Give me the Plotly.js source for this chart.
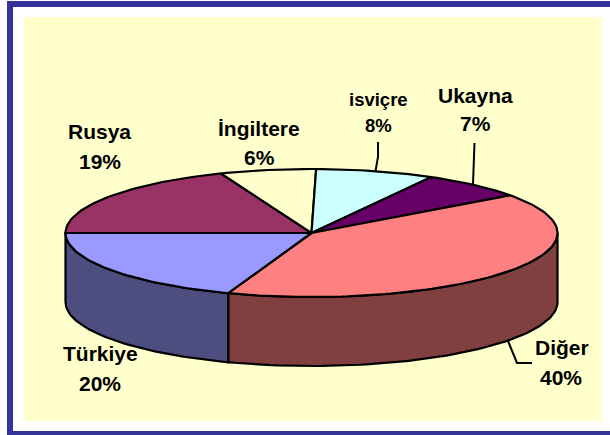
<!DOCTYPE html>
<html>
<head>
<meta charset="utf-8">
<script src="https://cdn.plot.ly/plotly-3.0.1.min.js"></script>
<style>html,body{margin:0;padding:0;background:#fff;overflow:hidden}#c{width:610px;height:435px}</style>
</head>
<body>
<div id="c"></div>
<script>
// Slices clockwise from the left edge of the pie
const categories = ["Rusya", "İngiltere", "isviçre", "Ukayna", "Diğer", "Türkiye"];
const values = [19.0, 6.3, 7.8, 6.9, 40.5, 19.5];
const percentLabels = ["19%", "6%", "8%", "7%", "40%", "20%"];
const topColors = ["#993366", "#FFFFCC", "#CCFFFF", "#660066", "#FF8080", "#9999FF"];
const sideColors = ["#4D1A33", "#808066", "#668080", "#330033", "#804040", "#4D4D80"];

// Pie projection
const cx = 311.5, cy = 233, rx = 246, ry = 64, depth = 69;
const startDeg = 180;
const total = values.reduce((a, b) => a + b, 0);

function px(t) { return cx + rx * Math.cos(t * Math.PI / 180); }
function py(t) { return cy - ry * Math.sin(t * Math.PI / 180); }
function arc(a, b) {
  const n = Math.max(2, Math.ceil(Math.abs(a - b) / 1.5));
  const out = [];
  for (let i = 0; i <= n; i++) out.push(a + (b - a) * i / n);
  return out;
}

const angles = [];
let cur = startDeg;
values.forEach(v => { const next = cur - v / total * 360; angles.push([cur, next]); cur = next; });

const traces = [];
const edge = {color: "#000", width: 2.2, shape: "linear"};

// Side wall (only the front half, angles below 0)
angles.forEach((ab, i) => {
  const a = Math.min(ab[0], 0), b = ab[1];
  if (a <= b) return;
  const ts = arc(a, b);
  const x = ts.map(px).concat(ts.slice().reverse().map(px));
  const y = ts.map(t => py(t)).concat(ts.slice().reverse().map(t => py(t) + depth));
  x.push(x[0]); y.push(y[0]);
  traces.push({type: "scatter", mode: "lines", x, y, fill: "toself", fillcolor: sideColors[i],
    line: edge, hoverinfo: "skip", showlegend: false});
});

// Top face
angles.forEach((ab, i) => {
  const ts = arc(ab[0], ab[1]);
  const x = [cx].concat(ts.map(px), [cx]);
  const y = [cy].concat(ts.map(py), [cy]);
  traces.push({type: "scatter", mode: "lines", x, y, fill: "toself", fillcolor: topColors[i],
    line: edge, name: categories[i], hoverinfo: "skip", showlegend: false});
});

// Leader lines
const leaders = [
  {x: [375.5, 378, 378], y: [171, 157, 142]},
  {x: [473, 474.5], y: [184, 143]},
  {x: [508, 517, 532], y: [341, 363, 363]}
];
leaders.forEach(l => traces.push({type: "scatter", mode: "lines", x: l.x, y: l.y,
  line: {color: "#000", width: 2}, hoverinfo: "skip", showlegend: false}));

// Labels: [name x, name y, pct x, pct y, font size]
const labelPos = {
  "Rusya": [99.5, 131, 99.5, 161, 21],
  "İngiltere": [259, 128.5, 259, 157.5, 21],
  "isviçre": [378.7, 99.5, 378.7, 125.5, 18.5],
  "Ukayna": [475, 95, 475, 123.5, 21],
  "Diğer": [561.5, 347.5, 561, 377, 21],
  "Türkiye": [100, 353, 100, 383, 21]
};
const annotations = [];
categories.forEach((c, i) => {
  const p = labelPos[c];
  const font = {family: "Liberation Sans, Arial, sans-serif", size: p[4], color: "#000", weight: 700};
  annotations.push({text: "<b>" + c + "</b>", x: p[0], y: p[1], xref: "x", yref: "y", showarrow: false, font, xanchor: "center", yanchor: "middle"});
  annotations.push({text: "<b>" + percentLabels[i] + "</b>", x: p[2], y: p[3], xref: "x", yref: "y", showarrow: false, font, xanchor: "center", yanchor: "middle"});
});

const rect = (x0, y0, x1, y1, fill) => ({type: "rect", xref: "x", yref: "y", x0, y0, x1, y1,
  fillcolor: fill, line: {width: 0}, layer: "below"});

const layout = {
  width: 610, height: 435,
  margin: {l: 0, r: 0, t: 0, b: 0},
  paper_bgcolor: "#fff", plot_bgcolor: "#fff",
  showlegend: false,
  xaxis: {range: [0, 610], visible: false, fixedrange: true},
  yaxis: {range: [435, 0], visible: false, fixedrange: true},
  shapes: [
    rect(7, 1, 610, 7, "#333399"),
    rect(7, 1, 13, 435, "#333399"),
    rect(7, 431, 610, 435, "#333399"),
    rect(24, 17, 602, 421, "#FFFFCC")
  ],
  annotations
};
Plotly.newPlot("c", traces, layout, {displayModeBar: false, staticPlot: true});
</script>
</body>
</html>
